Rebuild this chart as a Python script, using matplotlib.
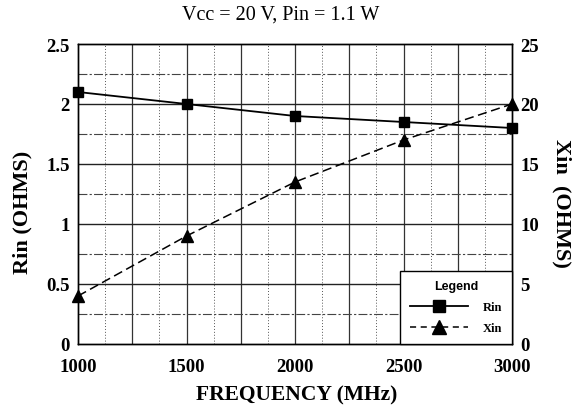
import numpy as np
import matplotlib
matplotlib.use('Agg')
import matplotlib.pyplot as plt
from matplotlib.lines import Line2D

# datos
frecuencia = [1000, 1500, 2000, 2500, 3000]
rin = [2.1, 2.0, 1.9, 1.85, 1.8]
xin = [4.0, 9.0, 13.5, 17.0, 20.0]

plt.rcParams['font.family'] = ['Liberation Serif', 'DejaVu Serif']

W, H = 577, 410
fig = plt.figure(figsize=(W / 100, H / 100), dpi=100)
ax = fig.add_axes([78 / W, 1 - 345 / H, 434 / W, 300 / H])
ax2 = ax.twinx()

ax.set_xlim(1000, 3000)
ax.set_ylim(0, 2.5)
ax2.set_ylim(0, 25)

# rejilla
for x in np.arange(1250, 3000, 250):
    ax.axvline(x, color='#333333', lw=0.9, zorder=0)
for x in np.arange(1125, 3000, 250):
    ax.axvline(x, color='#555555', lw=0.7, ls=(0, (1, 2)), zorder=0)
for y in np.arange(0.5, 2.5, 0.5):
    ax.axhline(y, color='#222222', lw=1.0, zorder=0)
for y in np.arange(0.25, 2.5, 0.5):
    ax.axhline(y, color='#444444', lw=0.8, ls=(0, (8, 2, 2, 2)), zorder=0)

ax.plot(frecuencia, rin, color='black', lw=1.3, marker='s', ms=7.5, zorder=3,
        clip_on=False)
ax2.plot(frecuencia, xin, color='black', lw=1.1, ls=(0, (6, 3)), marker='^',
         ms=8.5, zorder=3, clip_on=False)

ax.set_xticks(frecuencia)
ax.set_yticks([0, 0.5, 1, 1.5, 2, 2.5])
ax.set_yticklabels(['0', '0.5', '1', '1.5', '2', '2.5'])
ax2.set_yticks([0, 5, 10, 15, 20, 25])
for a in (ax, ax2):
    a.tick_params(axis='y', length=0, labelsize=13.5, pad=6)
    a.tick_params(axis='x', length=0, labelsize=13.5, pad=10)
    for lab in a.get_xticklabels() + a.get_yticklabels():
        lab.set_fontweight('bold')
    for s in a.spines.values():
        s.set_linewidth(1.0)

# textos
fig.text(297 / W, 1 - 395 / H, 'FREQUENCY (MHz)', fontsize=15.5,
         fontweight='bold', ha='center', va='center')
fig.text(22 / W, 1 - 212 / H, 'Rin (OHMS)', fontsize=16, fontweight='bold',
         rotation=90, ha='center', va='center')
fig.text(562 / W, 1 - 203 / H, 'Xin  (OHMS)', fontsize=16, fontweight='bold',
         rotation=-90, ha='center', va='center')
fig.text(281 / W, 1 - 15 / H, 'Vcc = 20 V, Pin = 1.1 W', fontsize=14.5,
         ha='center', va='center')

# leyenda
h = [Line2D([], [], color='black', lw=1.3, marker='s', ms=9),
     Line2D([], [], color='black', lw=1.1, ls=(0, (4, 3)), marker='^', ms=10)]
leg = ax2.legend(h, ['Rin', 'Xin'], title='Legend', loc='lower right',
                 bbox_to_anchor=(1.0, 0.0), frameon=True, fancybox=False,
                 edgecolor='black', framealpha=1, handlelength=4.6,
                 borderpad=0.8, labelspacing=0.7, handletextpad=1.2,
                 borderaxespad=0,
                 prop={'weight': 'bold', 'size': 9})
leg.get_title().set_fontfamily('Liberation Sans')
leg.get_title().set_fontweight('bold')
leg.get_title().set_fontsize(9)
leg.get_frame().set_linewidth(1.0)
leg.set_zorder(5)

plt.savefig('out.png', dpi=100)
